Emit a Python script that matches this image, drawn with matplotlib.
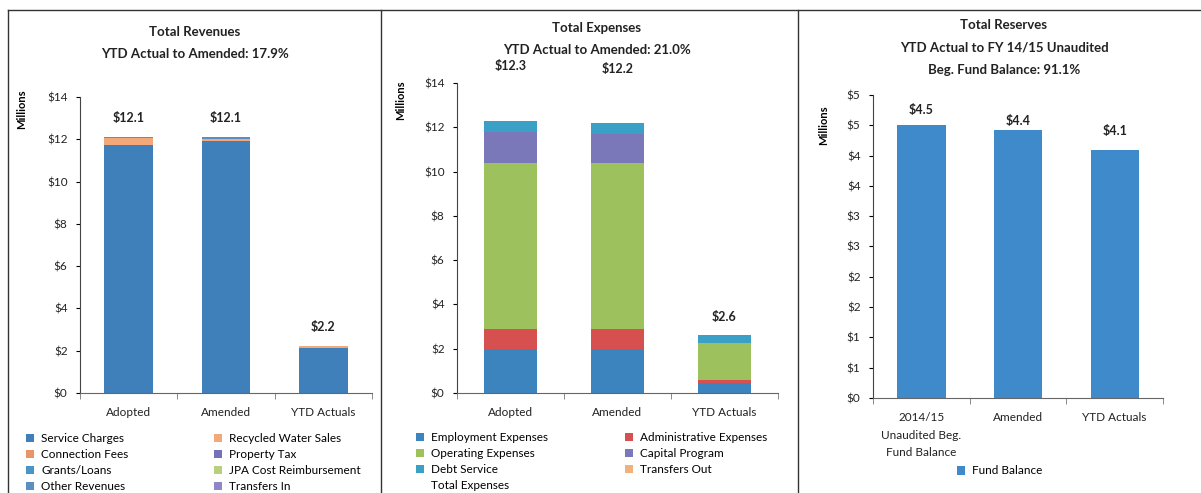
import numpy as np
import matplotlib.pyplot as plt
from matplotlib.patches import Patch
from matplotlib.lines import Line2D

plt.rcParams['font.family'] = ['Lato', 'DejaVu Sans']

W, H = 1201, 493

# revenues (millions)
rev_cats = ["Adopted", "Amended", "YTD Actuals"]
rev_names = ["Service Charges", "Recycled Water Sales", "Connection Fees",
             "Property Tax", "Grants/Loans", "JPA Cost Reimbursement",
             "Other Revenues", "Transfers In"]
rev_colors = ["#3F80BA", "#F2A878", "#E9956A", "#7472B6", "#4A95C8",
              "#B8CF7E", "#5B8FC2", "#8E86C6"]
rev_values = [
    [11.75, 11.90, 2.15],   # Service Charges
    [0.30, 0.10, 0.05],     # Recycled Water Sales
    [0.0, 0.0, 0.0],        # Connection Fees
    [0.0, 0.0, 0.0],        # Property Tax
    [0.0, 0.0, 0.0],        # Grants/Loans
    [0.0, 0.0, 0.0],        # JPA Cost Reimbursement
    [0.05, 0.10, 0.0],      # Other Revenues
    [0.0, 0.0, 0.0],        # Transfers In
]

# expenses (millions)
exp_cats = ["Adopted", "Amended", "YTD Actuals"]
exp_names = ["Employment Expenses", "Administrative Expenses",
             "Operating Expenses", "Capital Program", "Debt Service",
             "Transfers Out"]
exp_colors = ["#3C84BE", "#D5504E", "#9DC15C", "#7A78B8", "#3AA0C6", "#F0B27A"]
exp_values = [
    [2.0, 2.0, 0.45],    # Employment
    [0.9, 0.9, 0.15],    # Administrative
    [7.5, 7.5, 1.65],    # Operating
    [1.4, 1.3, 0.0],     # Capital Program
    [0.5, 0.5, 0.35],    # Debt Service
    [0.0, 0.0, 0.0],     # Transfers Out
]

# reserves (millions)
res_cats = ["2014/15\nUnaudited Beg.\nFund Balance", "Amended", "YTD Actuals"]
res_values = [4.5, 4.43, 4.1]
res_labels = [4.5, 4.4, 4.1]
res_color = "#3E8ACB"


def px_axes(fig, x0, x1, ytop, ybot):
    return fig.add_axes([x0 / W, (H - ybot) / H, (x1 - x0) / W, (ybot - ytop) / H])


def style_axes(ax, cats):
    for s in ["top", "right"]:
        ax.spines[s].set_visible(False)
    ax.spines["left"].set_color("#444444")
    ax.spines["bottom"].set_color("#666666")
    ax.set_xlim(-0.5, len(cats) - 0.5)
    ax.set_xticks(range(len(cats)))
    ax.set_xticklabels(cats, fontsize=8.5, color="#222222", linespacing=1.75)
    ax.set_xticks(np.arange(-0.5, len(cats)), minor=True)
    ax.tick_params(axis="x", which="major", length=0, pad=10)
    ax.tick_params(axis="x", which="minor", length=4, color="#777777")
    ax.tick_params(axis="y", length=3, labelsize=8.5, labelcolor="#222222", pad=6)


def stacked(ax, values, colors, names):
    x = np.arange(len(values[0]))
    bottom = np.zeros(len(x))
    handles = []
    for vals, c, n in zip(values, colors, names):
        ax.bar(x, vals, 0.5, bottom=bottom, color=c, edgecolor="none")
        bottom += np.array(vals)
        handles.append(Patch(facecolor=c, label=n))
    return bottom, handles


fig = plt.figure(figsize=(W / 100, H / 100), dpi=100)

# frame lines
for xl in [8, 381, 798]:
    fig.add_artist(Line2D([xl / W, xl / W], [0, (H - 10) / H], color="#333333", lw=1))
fig.add_artist(Line2D([8 / W, 1], [(H - 10) / H, (H - 10) / H], color="#333333", lw=1))

legend_kw = dict(frameon=False, fontsize=8.5, handlelength=0.7, handleheight=0.7,
                 handletextpad=0.6, labelspacing=0.42, borderpad=0)

# --- Total Revenues ---
ax1 = px_axes(fig, 80, 372, 97, 393)
tot, h1 = stacked(ax1, rev_values, rev_colors, rev_names)
style_axes(ax1, rev_cats)
ax1.set_ylim(0, 14)
ax1.set_yticks(range(0, 15, 2))
ax1.set_yticklabels(["${}".format(v) for v in range(0, 15, 2)])
for i, t in enumerate(tot):
    ax1.annotate("${:.1f}".format(t), (i, t), xytext=(0, 14), textcoords="offset points",
                 ha="center", va="center", fontsize=9, fontweight="bold", color="#222222")
ax1.set_ylabel("Millions", fontsize=8, fontweight="bold")
ax1.yaxis.set_label_coords(-0.18, 0.96)
fig.text(195 / W, 1 - 32 / H, "Total Revenues", ha="center", va="center",
         fontsize=9.5, fontweight="bold", color="#222222")
fig.text(195 / W, 1 - 54 / H, "YTD Actual to Amended: 17.9%", ha="center", va="center",
         fontsize=9.5, fontweight="bold", color="#222222")
order = [0, 2, 4, 6, 1, 3, 5, 7]
fig.legend([h1[i] for i in order], [rev_names[i] for i in order], ncol=2,
           loc="upper left", bbox_to_anchor=(20 / W, 1 - 427 / H),
           columnspacing=7.2, **legend_kw)

# --- Total Expenses ---
ax2 = px_axes(fig, 457, 778, 83, 393)
tot2, h2 = stacked(ax2, exp_values, exp_colors, exp_names)
style_axes(ax2, exp_cats)
ax2.set_ylim(0, 14)
ax2.set_yticks(range(0, 15, 2))
ax2.set_yticklabels(["${}".format(v) for v in range(0, 15, 2)])
for i, (t, off) in enumerate(zip(tot2, [39, 39, 13])):
    ax2.annotate("${:.1f}".format(t), (i, t), xytext=(0, off), textcoords="offset points",
                 ha="center", va="center", fontsize=9, fontweight="bold", color="#222222",
                 annotation_clip=False)
ax2.set_ylabel("Millions", fontsize=8, fontweight="bold")
ax2.yaxis.set_label_coords(-0.16, 0.945)
fig.text(597 / W, 1 - 28 / H, "Total Expenses", ha="center", va="center",
         fontsize=9.5, fontweight="bold", color="#222222")
fig.text(597 / W, 1 - 50 / H, "YTD Actual to Amended: 21.0%", ha="center", va="center",
         fontsize=9.5, fontweight="bold", color="#222222")
h2.append(Line2D([], [], linestyle="none", label="Total Expenses"))
order2 = [0, 2, 4, 6, 1, 3, 5]
fig.legend([h2[i] for i in order2], [h2[i].get_label() for i in order2], ncol=2,
           loc="upper left", bbox_to_anchor=(410 / W, 1 - 426 / H),
           columnspacing=6.5, **legend_kw)

# --- Total Reserves ---
ax3 = px_axes(fig, 873, 1163, 95, 398)
ax3.bar(range(3), res_values, 0.5, color=res_color, edgecolor="none", label="Fund Balance")
style_axes(ax3, res_cats)
ax3.set_ylim(0, 5)
ticks = np.arange(0, 5.01, 0.5)
ax3.set_yticks(ticks)
ax3.set_yticklabels(["${}".format(int(v + 0.5)) for v in ticks])
for i, (v, lab, off) in enumerate(zip(res_values, res_labels, [11, 6, 13])):
    ax3.annotate("${:.1f}".format(lab), (i, v), xytext=(0, off), textcoords="offset points",
                 ha="center", va="center", fontsize=9, fontweight="bold", color="#222222")
ax3.set_ylabel("Millions", fontsize=8, fontweight="bold")
ax3.yaxis.set_label_coords(-0.15, 0.90)
fig.text(1004 / W, 1 - 25 / H, "Total Reserves", ha="center", va="center",
         fontsize=9.5, fontweight="bold", color="#222222")
fig.text(1004 / W, 1 - 47 / H, "YTD Actual to FY 14/15 Unaudited", ha="center", va="center",
         fontsize=9.5, fontweight="bold", color="#222222")
fig.text(1004 / W, 1 - 70 / H, "Beg. Fund Balance: 91.1%", ha="center", va="center",
         fontsize=9.5, fontweight="bold", color="#222222")
fig.legend(handles=[Patch(facecolor=res_color, label="Fund Balance")], loc="center",
           bbox_to_anchor=(1000 / W, 1 - 471 / H), **legend_kw)

fig.savefig("out.png", dpi=100)
